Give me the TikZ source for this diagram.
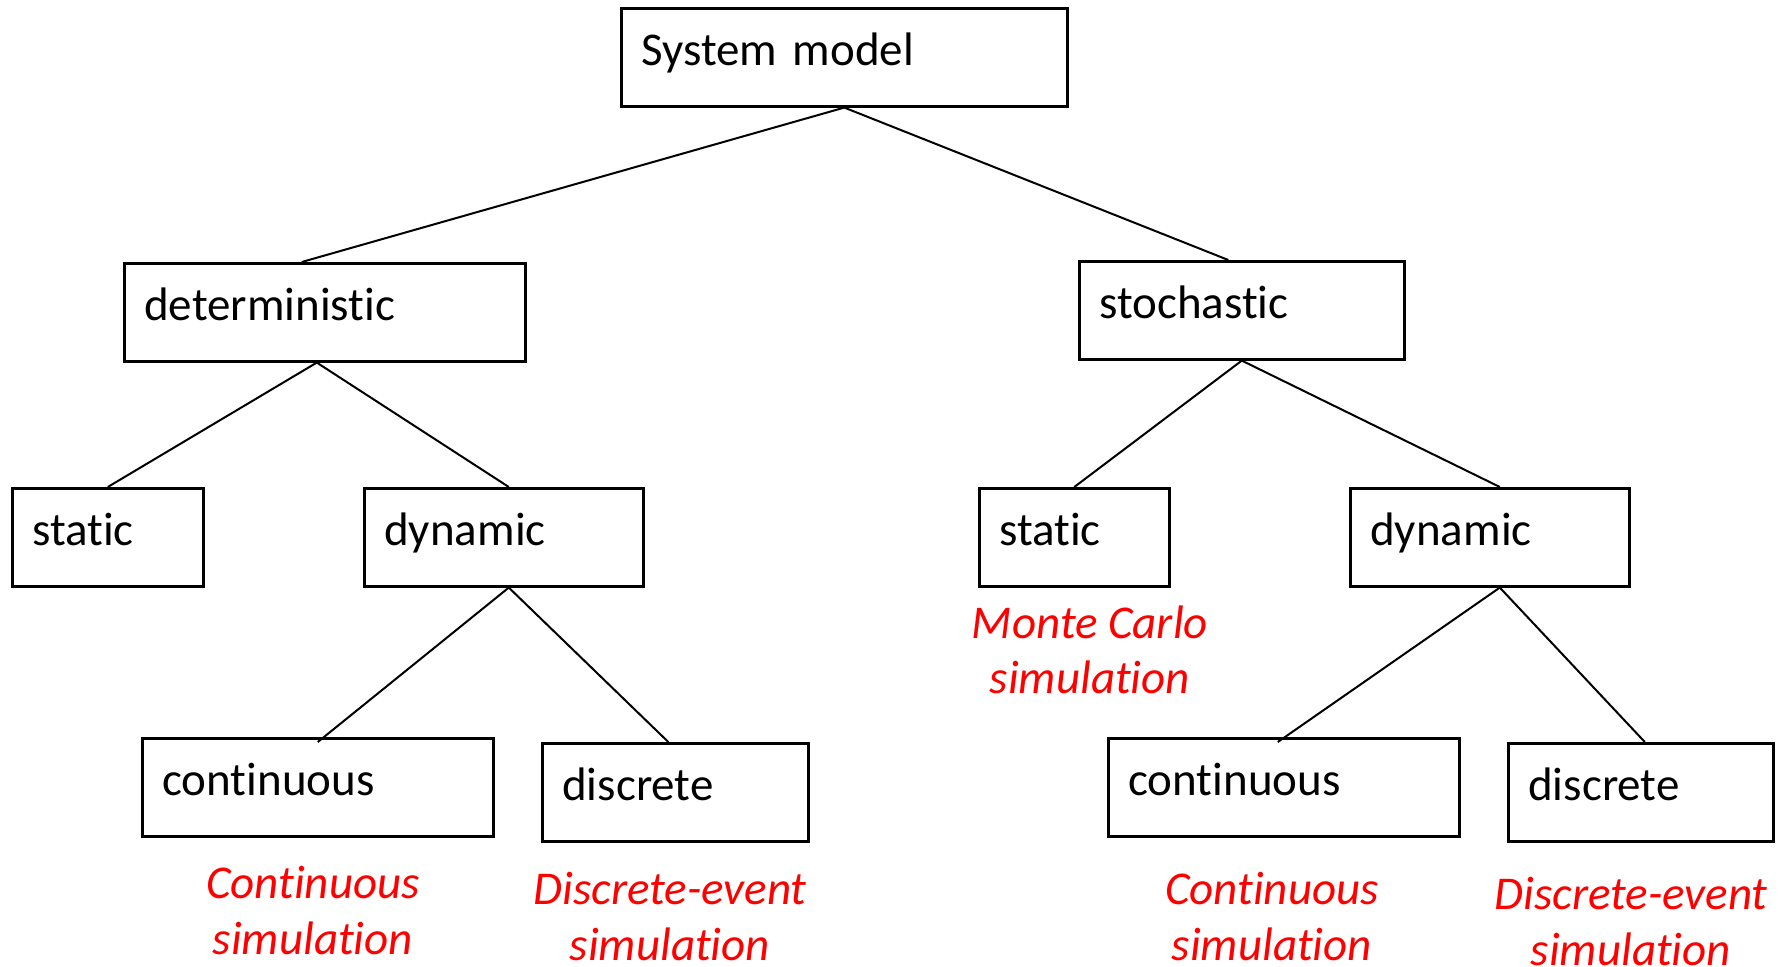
\documentclass[tikz,border=0pt]{standalone}
\usepackage{fontspec}
\usepackage{tikz}
\usetikzlibrary{positioning}
\newfontfamily\boxfont[Ligatures=CommonOff]{Carlito}

\tikzset{
  box/.style={draw, line width=1.3pt, anchor=north west, inner xsep=10pt, inner ysep=0pt,
    text width=#1, text height=28.5pt, text depth=20.5pt, align=left,
    font={\boxfont\fontsize{23.5pt}{28pt}\selectfont}},
  sim/.style={text=red, anchor=base, inner sep=0pt, align=center,
    font={\boxfont\itshape\fontsize{23.5pt}{28pt}\selectfont}},
  branch/.style={line width=1pt}
}

\begin{document}
\begin{tikzpicture}[x=0.5pt, y=-0.5pt]
  \useasboundingbox (0,0) rectangle (1789,967);
  % Define nodes
  \node[box=203pt]   (sys)  at (620,7)    {System model};
  \node[box=180.5pt] (det)  at (123,262)  {deterministic};
  \node[box=142.5pt] (sto)  at (1078,260) {stochastic};
  \node[box=75.5pt]  (dsta) at (11,487)   {static};
  \node[box=119.5pt] (ddyn) at (363,487)  {dynamic};
  \node[box=75pt]    (ssta) at (978,487)  {static};
  \node[box=119.5pt] (sdyn) at (1349,487) {dynamic};
  \node[box=155.5pt] (dcon) at (141,737)  {continuous};
  \node[box=113pt]   (ddis) at (541,742)  {discrete};
  \node[box=155.5pt] (scon) at (1107,737) {continuous};
  \node[box=112.5pt] (sdis) at (1507,742) {discrete};
  % Simulation labels (base = last line)
  \node[sim] (mc)   at (1090,694) {Monte Carlo\\simulation};
  \node[sim] (dcs)  at (313,954)  {Continuous\\simulation};
  \node[sim] (dde)  at (670,960)  {Discrete-event\\simulation};
  \node[sim] (scs)  at (1272,960) {Continuous\\simulation};
  \node[sim] (sde)  at (1631,965) {Discrete-event\\simulation};
  % Connect the nodes
  \draw[branch] (sys.south) -- ([xshift=-11.5pt]det.north);
  \draw[branch] (sys.south) -- ([xshift=-6.75pt]sto.north);
  \draw[branch] ([xshift=-4pt]det.south) -- (dsta.north);
  \draw[branch] ([xshift=-4pt]det.south) -- ([xshift=2.5pt]ddyn.north);
  \draw[branch] (sto.south) -- (ssta.north);
  \draw[branch] (sto.south) -- ([xshift=5pt]sdyn.north);
  \draw[branch] ([xshift=2.5pt]ddyn.south) -- ([yshift=-2.5pt]dcon.north);
  \draw[branch] ([xshift=2.5pt]ddyn.south) -- ([xshift=-3.5pt]ddis.north);
  \draw[branch] ([xshift=5pt]sdyn.south) -- ([xshift=-3pt,yshift=-2.5pt]scon.north);
  \draw[branch] ([xshift=5pt]sdyn.south) -- ([xshift=2pt]sdis.north);
\end{tikzpicture}
\end{document}
